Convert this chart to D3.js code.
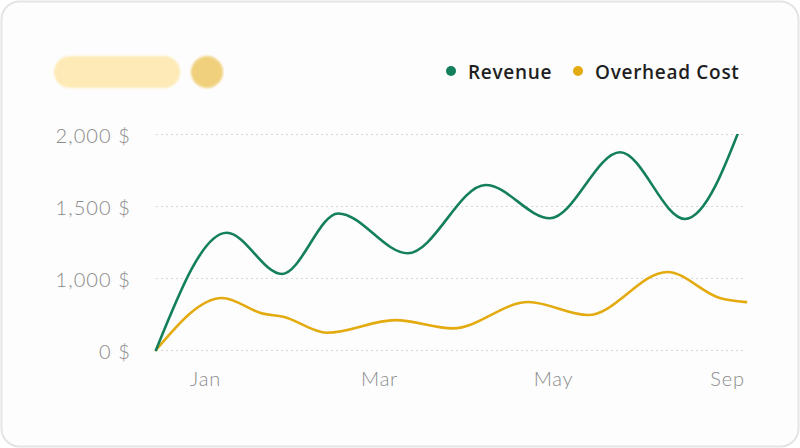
<!DOCTYPE html>
<html>
<head>
<meta charset="utf-8">
<script src="https://cdn.jsdelivr.net/npm/d3@7/dist/d3.min.js"></script>
<style>
  html, body { margin: 0; padding: 0; background: #ffffff; }
  svg { display: block; }
</style>
</head>
<body>
<div id="chart"></div>
<script>
// position along the period axis (0..9) and value of each turning point
var revenueAt = [0, 1.08, 1.92, 2.78, 3.84, 5.03, 6.01, 7.08, 8.07, 9];
var revenue = [0, 1314, 1028, 1448, 1172, 1646, 1415, 1873, 1410, 2150];
var overheadAt = [0, 1.01, 1.63, 1.94, 2.61, 3.65, 4.53, 5.68, 6.59, 7.80, 8.60, 9];
var overhead = [0, 723, 505, 462, 240, 415, 300, 667, 486, 1042, 722, 665];

var monthLabels = ["Jan", "Mar", "May", "Sep"];
var yTicks = [0, 1000, 1500, 2000];

var series = [
  { name: "Revenue", color: "#137f5c", at: revenueAt, values: revenue },
  { name: "Overhead Cost", color: "#e3ab10", at: overheadAt, values: overhead }
];

var width = 800, height = 448;

var svg = d3.select("#chart")
  .append("svg")
  .attr("width", width)
  .attr("height", height);

var defs = svg.append("defs");
defs.append("filter")
  .attr("id", "soft")
  .append("feGaussianBlur")
  .attr("stdDeviation", 1.2);
defs.append("clipPath")
  .attr("id", "plot-clip")
  .append("rect")
  .attr("x", 150)
  .attr("y", 134)
  .attr("width", 600)
  .attr("height", 230);

// card
svg.append("rect")
  .attr("x", 1.5)
  .attr("y", 1.5)
  .attr("width", width - 3)
  .attr("height", height - 3)
  .attr("rx", 18)
  .style("fill", "#fdfdfd")
  .style("stroke", "#e4e4e4")
  .style("stroke-width", 2);

// placeholder title
svg.append("rect")
  .attr("x", 54)
  .attr("y", 56)
  .attr("width", 126)
  .attr("height", 32)
  .attr("rx", 16)
  .attr("filter", "url(#soft)")
  .style("fill", "#fdeab6");
svg.append("circle")
  .attr("cx", 207)
  .attr("cy", 72)
  .attr("r", 16)
  .attr("filter", "url(#soft)")
  .style("fill", "#f0d07b");

var x = d3.scaleLinear()
  .domain([0, 9])
  .range([156, 746]);

var xLabel = d3.scalePoint()
  .domain(monthLabels)
  .range([205, 727]);

// uneven tick spacing in the original, so piecewise domain
var y = d3.scaleLinear()
  .domain(yTicks)
  .range([350, 278, 206, 134]);

// grid
var grid = svg.append("g")
  .attr("transform", "translate(156,0)")
  .call(d3.axisLeft(y).tickValues(yTicks).tickSize(-590).tickFormat(""));
grid.select(".domain").remove();
grid.selectAll("line")
  .style("stroke", "#d6d6d6")
  .style("stroke-dasharray", "2,3");

// y labels
var yAxis = svg.append("g")
  .attr("transform", "translate(131,0)")
  .call(d3.axisLeft(y)
    .tickValues(yTicks)
    .tickSize(0)
    .tickPadding(0)
    .tickFormat(function(d) { return d3.format(",")(d) + " $"; }));
yAxis.select(".domain").remove();
yAxis.selectAll("text")
  .attr("dy", "0.42em")
  .style("font-family", "Lato, sans-serif")
  .style("font-weight", 300)
  .style("font-size", "20px")
  .style("letter-spacing", "1.1px")
  .style("fill", "#8a8a8a");

// x labels
var xAxis = svg.append("g")
  .attr("transform", "translate(0,350)")
  .call(d3.axisBottom(xLabel).tickSize(0).tickPadding(22));
xAxis.select(".domain").remove();
xAxis.selectAll("text")
  .style("font-family", "Lato, sans-serif")
  .style("font-weight", 300)
  .style("font-size", "20px")
  .style("letter-spacing", "0.8px")
  .style("fill", "#8a8a8a");

// lines
var line = d3.line()
  .x(function(d) { return x(d[0]); })
  .y(function(d) { return y(d[1]); })
  .curve(d3.curveMonotoneX);

svg.append("g")
  .attr("clip-path", "url(#plot-clip)")
  .selectAll("path")
  .data(series.slice().reverse())
  .enter()
  .append("path")
  .attr("d", function(d) { return line(d3.zip(d.at, d.values)); })
  .style("fill", "none")
  .style("stroke", function(d) { return d.color; })
  .style("stroke-width", 2.6)
  .style("stroke-linejoin", "round")
  .style("stroke-linecap", "round");

// legend
var legendX = [451, 578];
var legend = svg.selectAll(".legend")
  .data(series)
  .enter()
  .append("g")
  .attr("class", "legend")
  .attr("transform", function(d, i) { return "translate(" + legendX[i] + ",71)"; });

legend.append("circle")
  .attr("r", 5)
  .style("fill", function(d) { return d.color; });

legend.append("text")
  .attr("x", 17)
  .attr("y", 8)
  .style("font-family", "'Open Sans', sans-serif")
  .style("font-weight", 600)
  .style("font-size", "19px")
  .style("letter-spacing", "0.7px")
  .style("fill", "#1f1f1f")
  .text(function(d) { return d.name; });
</script>
</body>
</html>
